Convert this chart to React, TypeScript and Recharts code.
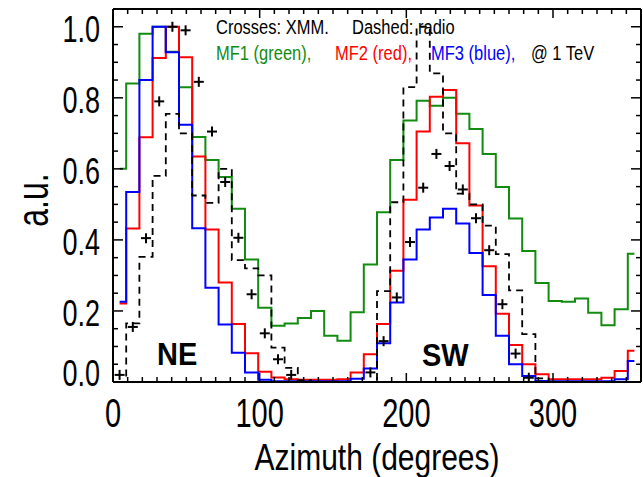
import React from 'react';
import { ComposedChart, Line, Scatter, XAxis, YAxis } from 'recharts';

// bin centres (9 degree bins)
const azimuth = [
  4.5, 13.5, 22.5, 31.5, 40.5, 49.5, 58.5, 67.5, 76.5, 85.5,
  94.5, 103.5, 112.5, 121.5, 130.5, 139.5, 148.5, 157.5, 166.5, 175.5,
  184.5, 193.5, 202.5, 211.5, 220.5, 229.5, 238.5, 247.5, 256.5, 265.5,
  274.5, 283.5, 292.5, 301.5, 310.5, 319.5, 328.5, 337.5, 346.5, 355.5,
];

// MF1 (green)
const mf1 = [
  0.6, 0.84, 0.98, 1.0, 0.93, 0.83, 0.69, 0.625, 0.577, 0.488,
  0.345, 0.209, 0.158, 0.165, 0.18, 0.2, 0.13, 0.116, 0.196, 0.331,
  0.478, 0.625, 0.736, 0.792, 0.778, 0.8, 0.755, 0.712, 0.642, 0.549,
  0.46, 0.369, 0.279, 0.228, 0.226, 0.235, 0.195, 0.16, 0.205, 0.361,
];

// MF2 (red)
const mf2 = [
  0.221, 0.432, 0.689, 0.912, 1.0, 0.914, 0.635, 0.429, 0.28, 0.163,
  0.081, 0.029, 0.013, 0.008, 0.006, 0.006, 0.006, 0.008, 0.027, 0.078,
  0.163, 0.313, 0.513, 0.705, 0.803, 0.822, 0.672, 0.497, 0.326, 0.192,
  0.104, 0.05, 0.022, 0.008, 0.008, 0.008, 0.008, 0.012, 0.031, 0.088,
];

// MF3 (blue)
const mf3 = [
  0.226, 0.535, 0.85, 1.0, 0.928, 0.724, 0.433, 0.265, 0.162, 0.082,
  0.027, 0.006, 0.002, 0.002, 0.002, 0.002, 0.002, 0.002, 0.009, 0.038,
  0.109, 0.224, 0.345, 0.429, 0.463, 0.488, 0.446, 0.363, 0.245, 0.13,
  0.05, 0.017, 0.003, 0.002, 0.002, 0.002, 0.002, 0.002, 0.008, 0.059,
];

// radio (dashed)
const radio = [
  0.0, 0.165, 0.352, 0.58, 0.755, 0.7, 0.525, 0.504, 0.6, 0.343,
  0.32, 0.3, 0.097, 0.04, 0.005, 0, 0, 0, 0, 0,
  0.256, 0.506, 0.83, 1.0, 0.869, 0.7, 0.53, 0.5, 0.44, 0.36,
  0.258, 0.135, 0.01, 0, 0, 0, 0, 0, 0, 0,
];

// XMM (crosses), null where no cross is drawn
const xmm = [
  0.02, 0.155, 0.405, 0.79, 1.0, 0.99, 0.845, 0.705, 0.563, 0.406,
  0.247, 0.137, 0.064, 0.02, null, null, null, null, null, 0.027,
  0.115, 0.238, 0.394, 0.547, 0.642, 0.608, 0.542, 0.461, 0.371, 0.219,
  0.08, 0.012, null, null, null, null, null, null, null, null,
];

const xTicks = [0, 10, 20, 30, 40, 50, 60, 70, 80, 90, 100, 110, 120, 130, 140, 150, 160, 170, 180,
  190, 200, 210, 220, 230, 240, 250, 260, 270, 280, 290, 300, 310, 320, 330, 340, 350, 360];
const yTicks = [0, 0.05, 0.1, 0.15, 0.2, 0.25, 0.3, 0.35, 0.4, 0.45, 0.5, 0.55, 0.6, 0.65, 0.7,
  0.75, 0.8, 0.85, 0.9, 0.95, 1.0];

const rows = azimuth.map((az, i) => ({ az, mf1: mf1[i], mf2: mf2[i], mf3: mf3[i], radio: radio[i] }));
const xmmPoints = azimuth
  .map((az, i) => ({ az, xmm: xmm[i] }))
  .filter((p) => p.xmm !== null);

const FONT = "'Liberation Sans', Arial, Helvetica, sans-serif";
const GREEN = '#118c11';
const RED = '#ff0000';
const BLUE = '#0000ff';

const isMajorX = (v: number) => v % 100 === 0;
const isMajorY = (v: number) => Math.abs(v * 5 - Math.round(v * 5)) < 1e-6;

const BottomTick = ({ x, y, payload }: any) => {
  const v = payload.value;
  const major = isMajorX(v);
  return (
    <g>
      <line x1={x} y1={y} x2={x} y2={y - (major ? 9 : 5)} stroke="#000" strokeWidth={1.5} />
      {major && (
        <text
          transform={`translate(${x},${y + 45}) scale(1,1.4)`}
          textAnchor="middle"
          fontSize={29}
          fontFamily={FONT}
          fill="#000"
        >
          {v}
        </text>
      )}
    </g>
  );
};

const TopTick = ({ x, y, payload }: any) => {
  const major = isMajorX(payload.value);
  return <line x1={x} y1={y} x2={x} y2={y + (major ? 9 : 5)} stroke="#000" strokeWidth={1.5} />;
};

const LeftTick = ({ x, y, payload }: any) => {
  const v = payload.value;
  const major = isMajorY(v);
  return (
    <g>
      <line x1={x} y1={y} x2={x + (major ? 10 : 5)} y2={y} stroke="#000" strokeWidth={1.5} />
      {major && (
        <text
          transform={`translate(${x - 13},${y + (v === 0 ? 4 : 15)}) scale(1,1.4)`}
          textAnchor="end"
          fontSize={27}
          fontFamily={FONT}
          fill="#000"
        >
          {v.toFixed(1)}
        </text>
      )}
    </g>
  );
};

const RightTick = ({ x, y, payload }: any) => {
  const major = isMajorY(payload.value);
  return <line x1={x} y1={y} x2={x - (major ? 10 : 5)} y2={y} stroke="#000" strokeWidth={1.5} />;
};

const Plus = ({ cx, cy }: any) => (
  <g>
    <line x1={cx - 5} y1={cy} x2={cx + 5} y2={cy} stroke="#000" strokeWidth={2} />
    <line x1={cx} y1={cy - 5} x2={cx} y2={cy + 5} stroke="#000" strokeWidth={2} />
  </g>
);

const axisLine = { stroke: '#000', strokeWidth: 2 };

export default function App() {
  return (
    <div style={{ position: 'absolute', left: 0, top: 0, width: 643, height: 477, background: '#fff' }}>
      <ComposedChart
        width={643}
        height={477}
        data={rows}
        margin={{ top: 8, right: 1, bottom: 94, left: 112 }}
      >
        <XAxis
          xAxisId="b"
          dataKey="az"
          type="number"
          domain={[0, 360]}
          ticks={xTicks}
          interval={0}
          height={1}
          tickSize={0}
          tickMargin={0}
          tickLine={false}
          axisLine={axisLine}
          tick={<BottomTick />}
          allowDataOverflow
        />
        <XAxis
          xAxisId="t"
          orientation="top"
          dataKey="az"
          type="number"
          domain={[0, 360]}
          ticks={xTicks}
          interval={0}
          height={1}
          tickSize={0}
          tickMargin={0}
          tickLine={false}
          axisLine={axisLine}
          tick={<TopTick />}
          allowDataOverflow
        />
        <YAxis
          yAxisId="l"
          type="number"
          domain={[0, 1.05]}
          ticks={yTicks}
          interval={0}
          width={1}
          tickSize={0}
          tickMargin={0}
          tickLine={false}
          axisLine={axisLine}
          tick={<LeftTick />}
          allowDataOverflow
        />
        <YAxis
          yAxisId="r"
          orientation="right"
          type="number"
          domain={[0, 1.05]}
          ticks={yTicks}
          interval={0}
          width={1}
          tickSize={0}
          tickMargin={0}
          tickLine={false}
          axisLine={axisLine}
          tick={<RightTick />}
          allowDataOverflow
        />
        <Line xAxisId="b" yAxisId="l" type="step" dataKey="mf1" stroke={GREEN} strokeWidth={2} dot={false} isAnimationActive={false} />
        <Line xAxisId="b" yAxisId="l" type="step" dataKey="mf2" stroke={RED} strokeWidth={2} dot={false} isAnimationActive={false} />
        <Line xAxisId="b" yAxisId="l" type="step" dataKey="mf3" stroke={BLUE} strokeWidth={2} dot={false} isAnimationActive={false} />
        <Line
          xAxisId="b"
          yAxisId="l"
          type="step"
          dataKey="radio"
          stroke="#000"
          strokeWidth={1.8}
          strokeDasharray="7 5"
          dot={false}
          isAnimationActive={false}
        />
        <Scatter
          xAxisId="t"
          yAxisId="r"
          data={xmmPoints}
          dataKey="xmm"
          shape={<Plus />}
          isAnimationActive={false}
        />
      </ComposedChart>
      <svg
        width={643}
        height={477}
        style={{ position: 'absolute', left: 0, top: 0, pointerEvents: 'none' }}
        fontFamily={FONT}
      >
        <text transform="translate(216,34) scale(1,1.2)" fontSize={16.5} fill="#000">Crosses: XMM.</text>
        <text transform="translate(352,34) scale(1,1.2)" fontSize={16.5} fill="#000">Dashed: radio</text>
        <text transform="translate(216,60) scale(1,1.2)" fontSize={16.5} fill={GREEN}>MF1 (green),</text>
        <text transform="translate(335,60) scale(1,1.2)" fontSize={16.5} fill={RED}>MF2 (red),</text>
        <text transform="translate(431,60) scale(1,1.2)" fontSize={16.5} fill={BLUE}>MF3 (blue),</text>
        <text transform="translate(531,60) scale(1,1.2)" fontSize={16.5} fill="#000">@ 1 TeV</text>
        <text transform="translate(157,365) scale(1,1.1)" fontSize={29} fontWeight="bold" fill="#000">NE</text>
        <text transform="translate(422,366) scale(1,1.1)" fontSize={29} fontWeight="bold" fill="#000">SW</text>
        <text transform="translate(377,470) scale(1,1.25)" fontSize={30} textAnchor="middle" fill="#000">
          Azimuth (degrees)
        </text>
        <text transform="translate(48,200) rotate(-90) scale(1,1.4)" fontSize={32} textAnchor="middle" fill="#000">
          a.u.
        </text>
      </svg>
    </div>
  );
}
